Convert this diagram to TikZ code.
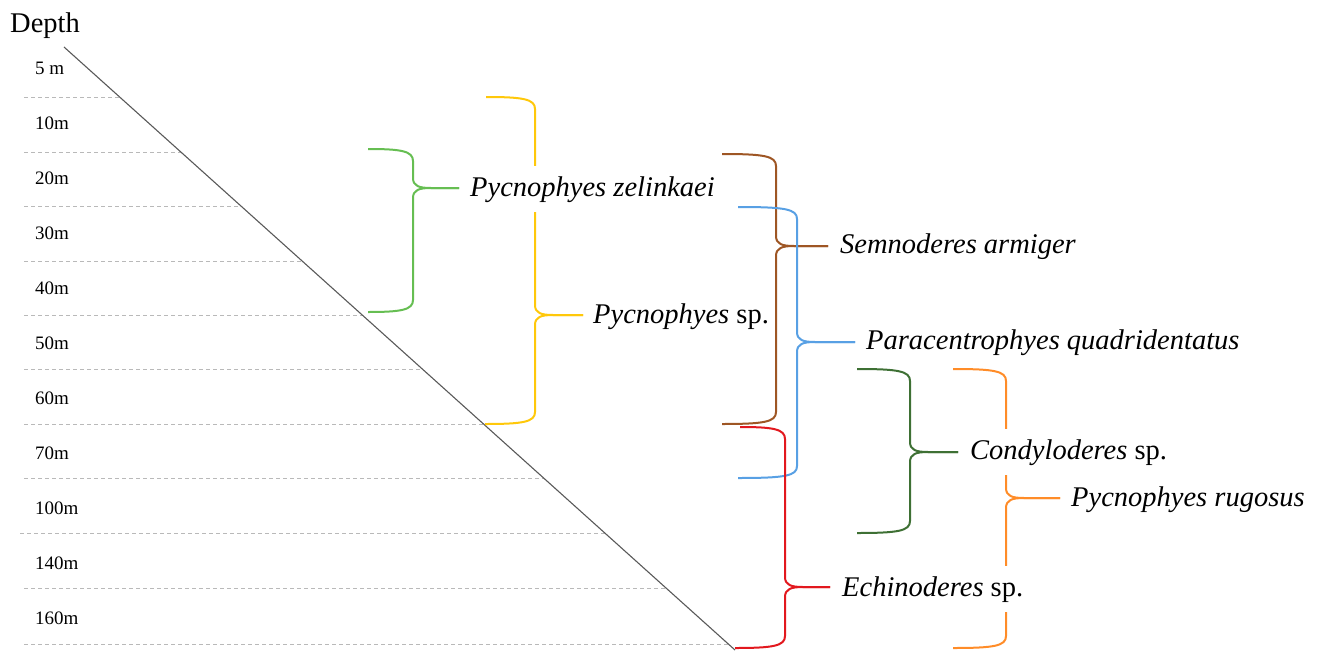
\documentclass[tikz,border=0pt]{standalone}
\usepackage{fontspec}
\setmainfont{Liberation Serif}
\definecolor{cgreen}{RGB}{102,190,82}
\definecolor{cyellow}{RGB}{255,200,10}
\definecolor{cbrown}{RGB}{158,86,36}
\definecolor{cblue}{RGB}{88,160,228}
\definecolor{cred}{RGB}{226,24,30}
\definecolor{cdkgreen}{RGB}{62,112,52}
\definecolor{corange}{RGB}{255,140,40}
\definecolor{cdash}{RGB}{185,185,185}
\tikzset{
  bracel/.style={line width=2pt},
  depthline/.style={cdash, line width=0.9pt, dash pattern=on 4pt off 3pt},
  depthlab/.style={anchor=west, inner sep=0pt, font=\fontsize{19}{21}\selectfont},
  taxon/.style={anchor=west, fill=white, inner xsep=2pt, inner ysep=10pt,
    text height=20pt, text depth=6pt, font=\fontsize{28.5}{31}\selectfont},
}
\newcommand\drawbrace[8]{%
  \draw[bracel,#1] (#2,#3) .. controls ({#4-12},#3) and (#4,{#3+2}) .. (#4,{#3+12})
    -- (#4,{#5-10}) .. controls (#4,{#5-2}) and ({#4+6},#5) .. ({#4+18},#5) -- (#6,#5);
  \draw[bracel,#1] (#8,#7) .. controls ({#4-12},#7) and (#4,{#7-2}) .. (#4,{#7-12})
    -- (#4,{#5+10}) .. controls (#4,{#5+2}) and ({#4+6},#5) .. ({#4+18},#5) -- (#6,#5);
}
\begin{document}
\begin{tikzpicture}[x=1pt,y=-1pt]
\useasboundingbox (0,0) rectangle (1321,650);
% diagonal
\coordinate (dtop) at (64,47);
\coordinate (dbot) at (735,650);
% dashed depth lines, ending on the diagonal
\foreach \yy/\xs in {97/24,152/24,206/24,261/24,315/24,369/24,424/24,478/24,533/20,588/24,644/24}{
  \draw[depthline] (\xs,\yy) -- ({64+(\yy-47)*1.11277},\yy);
}
\draw[line width=1.1pt, black!65] (dtop) -- (dbot);
% depth labels
\node[anchor=west, inner sep=0pt, font=\fontsize{28.5}{31}\selectfont] (depth) at (10,26) {Depth};
\foreach \lab/\yy [count=\i] in {5 m/68,10m/123,20m/178,30m/233,40m/288,50m/343,60m/398,70m/453,100m/508,140m/563,160m/618}{
  \node[depthlab] (d\i) at (35,\yy) {\lab};
}
% braces
\drawbrace{cgreen}{368}{149}{413}{188}{459}{312}{368}
\drawbrace{cyellow}{486}{97}{535}{315}{583}{424}{485}
\drawbrace{cbrown}{722}{154}{776}{246}{828}{424}{722}
\drawbrace{cblue}{738}{207}{797}{342}{855}{478}{738}
\drawbrace{cred}{740}{427}{785}{587}{830}{648}{735}
\drawbrace{cdkgreen}{857}{369}{910}{452}{958}{533}{857}
\drawbrace{corange}{953}{369}{1006}{498}{1060}{648}{953}
% taxa
\node[taxon] (pz) at (468,189) {\textit{Pycnophyes zelinkaei}};
\node[taxon] (psp) at (591,316) {\textit{Pycnophyes} sp.};
\node[taxon] (sa) at (838,246) {\textit{Semnoderes armiger}};
\node[taxon] (pq) at (864,342) {\textit{Paracentrophyes quadridentatus}};
\node[taxon] (csp) at (968,452) {\textit{Condyloderes} sp.};
\node[taxon] (pr) at (1069,499) {\textit{Pycnophyes rugosus}};
\node[taxon] (esp) at (840,589) {\textit{Echinoderes} sp.};
\end{tikzpicture}
\end{document}
